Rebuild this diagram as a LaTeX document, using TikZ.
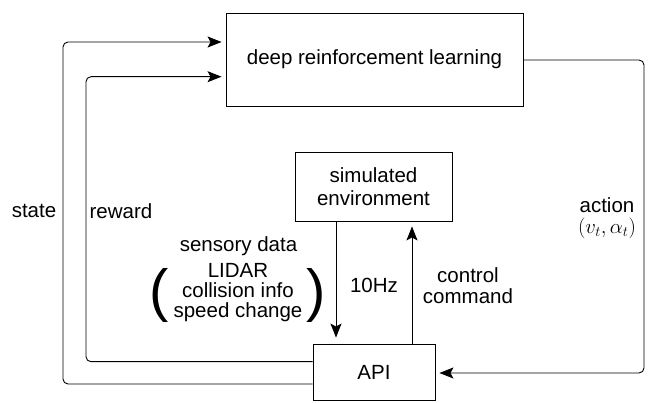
\documentclass[tikz,border=0pt]{standalone}
\usepackage{fontspec}
\setmainfont{Liberation Sans}
\usetikzlibrary{arrows.meta}
\begin{document}
\begin{tikzpicture}[x=1pt,y=-1pt,
  box/.style={draw=black,line width=0.9pt,minimum width=#1,inner sep=0pt},
  conn/.style={draw=black,line width=0.9pt,rounded corners=5pt},
  arr/.style={-{Stealth[length=14pt,width=11pt,inset=3pt]}},
  lbl/.style={inner sep=0pt,font=\fontsize{20.5}{22.7}\selectfont,align=center},
  every node/.style={font=\fontsize{20.5}{22.7}\selectfont}]
\useasboundingbox (0,0) rectangle (654,403);
% boxes
\node[box=297pt,minimum height=93pt] (drl) at (374.5,59.5) {deep reinforcement learning};
\node[box=157pt,minimum height=69pt,align=center] (sim) at (373.5,186.5) {simulated\\environment};
\node[box=122pt,minimum height=56pt] (api) at (374,372) {API};
% corner coordinates
\coordinate (s1) at (63,384);
\coordinate (s2) at (63,42);
\coordinate (r1) at (86,361.7);
\coordinate (r2) at (86,76.7);
\coordinate (a1) at (644,60);
\coordinate (a2) at (644,373);
\coordinate (dn) at (336,0);
\coordinate (up) at (412,0);
% connectors
\draw[conn,arr,shorten >=4pt] (api.west |- s1) -- (s1) -- (s2) -- (drl.west |- s2);
\draw[conn,arr,shorten >=4pt] (api.west |- r1) -- (r1) -- (r2) -- (drl.west |- r2);
\draw[conn,arr,shorten >=4pt] (drl.east |- a1) -- (a1) -- (a2) -- (api.east |- a2);
\draw[conn,arr,shorten >=6pt] (sim.south -| dn) -- (api.north -| dn);
\draw[conn,arr,shorten >=5pt] (api.north -| up) -- (sim.south -| up);
% labels
\node[lbl] (lstate) at (34,211) {state};
\node[lbl] (lreward) at (121,211) {reward};
\node[lbl] (laction) at (607,205) {action};
\node[lbl] (lvt) at (607,228) {$(v_t,\alpha_t)$};
\node[lbl] (lhz) at (374,285) {10Hz};
\node[lbl,font=\fontsize{20.5}{21}\selectfont] (lcc) at (468,286) {control\\command};
\node[lbl] (lsd) at (238.5,246) {sensory data};
\node[lbl,font=\fontsize{20.5}{20}\selectfont] (lsens) at (238,293) {LIDAR\\collision info\\speed change};
\node[inner sep=0pt,font=\fontsize{58}{58}\selectfont] (lp) at (159,295) {(};
\node[inner sep=0pt,font=\fontsize{58}{58}\selectfont] (rp) at (316,295) {)};
\end{tikzpicture}
\end{document}
